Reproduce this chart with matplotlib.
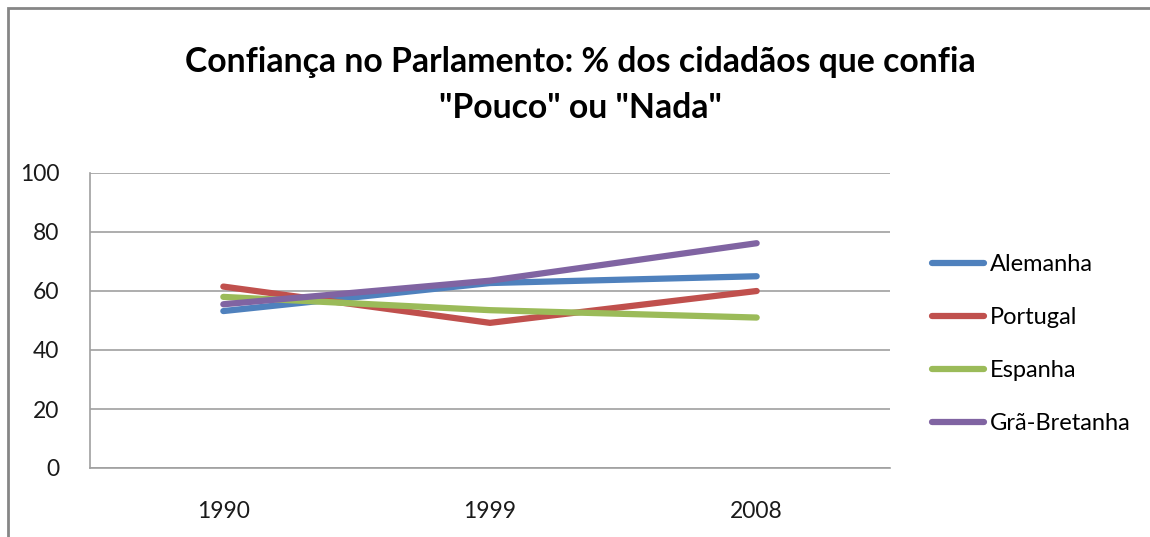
import matplotlib
matplotlib.use("Agg")
import matplotlib.pyplot as plt
from matplotlib.patches import Rectangle

years = ["1990", "1999", "2008"]
series_names = ["Alemanha", "Portugal", "Espanha", "Grã-Bretanha"]
alemanha = [53.2, 62.7, 65.0]
portugal = [61.5, 49.2, 60.0]
espanha = [58.0, 53.5, 51.0]
gra_bretanha = [55.5, 63.5, 76.2]
colors = ["#4F81BD", "#C0504D", "#9BBB59", "#8064A2"]
yticks = [0, 20, 40, 60, 80, 100]

font = ["Lato", "DejaVu Sans"]
plt.rcParams['font.family'] = font

fig = plt.figure(figsize=(11.5, 5.37), dpi=100)
fig.patches.append(Rectangle((8/1150, -0.05), 1.2, 1 - 8/537 + 0.05, transform=fig.transFigure,
                             fill=False, edgecolor="#868686", linewidth=2))

ax = fig.add_axes([90/1150, 1 - 468/537, 800/1150, (468 - 173)/537])
x = list(range(len(years)))
for vals, name, c in zip([alemanha, portugal, espanha, gra_bretanha], series_names, colors):
    ax.plot(x, vals, color=c, linewidth=4.5, solid_capstyle="round", label=name)

ax.set_xlim(-0.5, 2.5)
ax.set_ylim(0, 100)
ax.set_yticks(yticks)
ax.set_xticks(x)
ax.set_xticklabels(years)
ax.grid(axis="y", color="#A0A0A0", linewidth=1.2)
ax.set_axisbelow(True)
for s in ["top", "right"]:
    ax.spines[s].set_visible(False)
for s in ["left", "bottom"]:
    ax.spines[s].set_color("#A0A0A0")
    ax.spines[s].set_linewidth(1.2)
ax.tick_params(axis="both", length=0, labelsize=16.5, colors="#1a1a1a")
ax.tick_params(axis="y", pad=22)
ax.tick_params(axis="x", pad=24)

fig.text(0.505, 1 - 62/537, "Confiança no Parlamento: % dos cidadãos que confia",
         ha="center", va="center", fontsize=24.3, fontweight="bold")
fig.text(0.505, 1 - 108/537, "\"Pouco\" ou \"Nada\"",
         ha="center", va="center", fontsize=24.3, fontweight="bold")

leg = ax.legend(loc="upper left", bbox_to_anchor=(920/1150, 1 - 242/537),
                bbox_transform=fig.transFigure, frameon=False, fontsize=17,
                handlelength=2.2, handletextpad=0.25, labelspacing=1.36, borderpad=0)

fig.savefig("out.png", dpi=100, facecolor="white")
